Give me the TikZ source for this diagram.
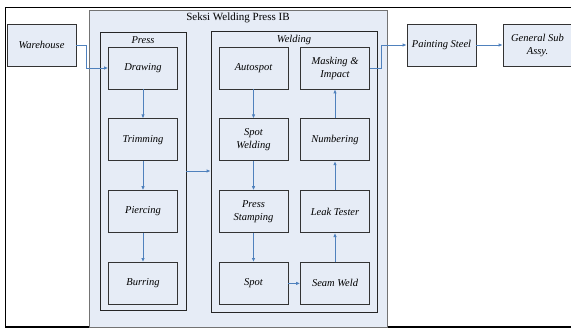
\documentclass[tikz,border=0pt]{standalone}
\usepackage{fontspec}
\setmainfont{Liberation Serif}
\usetikzlibrary{arrows.meta}
\usetikzlibrary{positioning}

\definecolor{boxfill}{RGB}{230,236,246}
\definecolor{flowblue}{RGB}{79,129,189}

\tikzset{
  stage/.style={draw=black!80, fill=boxfill, line width=0.8pt,
    minimum width=69pt, minimum height=42pt, inner sep=1pt,
    align=center, font=\fontsize{10.5}{13}\selectfont\itshape},
  group/.style={draw=black!85, fill=boxfill, line width=0.8pt, inner sep=0pt},
  flow/.style={draw=flowblue, line width=0.8pt, -{Latex[length=4pt,width=3.5pt]}}
}

\begin{document}
\begin{tikzpicture}[x=1pt, y=-1pt]

\useasboundingbox (0,0) rectangle (571,329);

% Frame
\draw[line width=1.6pt] (575,7.5) -- (5.3,7.5) -- (5.3,326.8) -- (575,326.8);

% Section
\node[group, draw=black!55, minimum width=298pt, minimum height=317pt] (seksi) at (238,168.5) {};
\node[font=\fontsize{11}{13}\selectfont] (seksilabel) at (238,17.5) {Seksi Welding Press IB};

% Press and Welding groups
\node[group, minimum width=86pt, minimum height=278pt] (press) at (143,171) {};
\node[font=\fontsize{10.5}{13}\selectfont\itshape] (presslabel) at (143,40.5) {Press};
\node[group, minimum width=166pt, minimum height=281pt] (welding) at (294,171.5) {};
\node[font=\fontsize{10.5}{13}\selectfont\itshape] (weldinglabel) at (294,40) {Welding};

% Press steps
\node[stage] (drawing) at (143,68) {Drawing};
\node[stage, below=29pt of drawing] (trimming) {Trimming};
\node[stage, below=29pt of trimming] (piercing) {Piercing};
\node[stage, below=29pt of piercing] (burring) {Burring};

% Welding steps
\node[stage] (autospot) at (253.5,68) {Autospot};
\node[stage, below=29pt of autospot] (spotwelding) {Spot\\ Welding};
\node[stage, below=29pt of spotwelding] (stamping) {Press\\ Stamping};
\node[stage, below=29pt of stamping] (spot) {Spot};
\node[stage] (masking) at (335,68) {Masking \&\\ Impact};
\node[stage, below=29pt of masking] (numbering) {Numbering};
\node[stage, below=29pt of numbering] (leak) {Leak Tester};
\node[stage, below=29pt of leak] (seam) {Seam Weld};

% Outside steps
\node[stage] (warehouse) at (41.5,45) {Warehouse};
\node[stage] (painting) at (441.5,45) {Painting Steel};
\node[stage] (general) at (537.5,45) {General Sub\\ Assy.};

% Flow
\draw[flow] (warehouse.east) -- ++(10,0) |- (drawing.west);
\draw[flow] (drawing) -- (trimming);
\draw[flow] (trimming) -- (piercing);
\draw[flow] (piercing) -- (burring);
\draw[flow] (press.east) -- (press.east -| welding.west);
\draw[flow] (autospot) -- (spotwelding);
\draw[flow] (spotwelding) -- (stamping);
\draw[flow] (stamping) -- (spot);
\draw[flow] (spot) -- (seam);
\draw[flow] (seam) -- (leak);
\draw[flow] (leak) -- (numbering);
\draw[flow] (numbering) -- (masking);
\draw[flow] (masking.east) -- ++(11,0) |- (painting.west);
\draw[flow] (painting) -- (general);

\end{tikzpicture}
\end{document}
